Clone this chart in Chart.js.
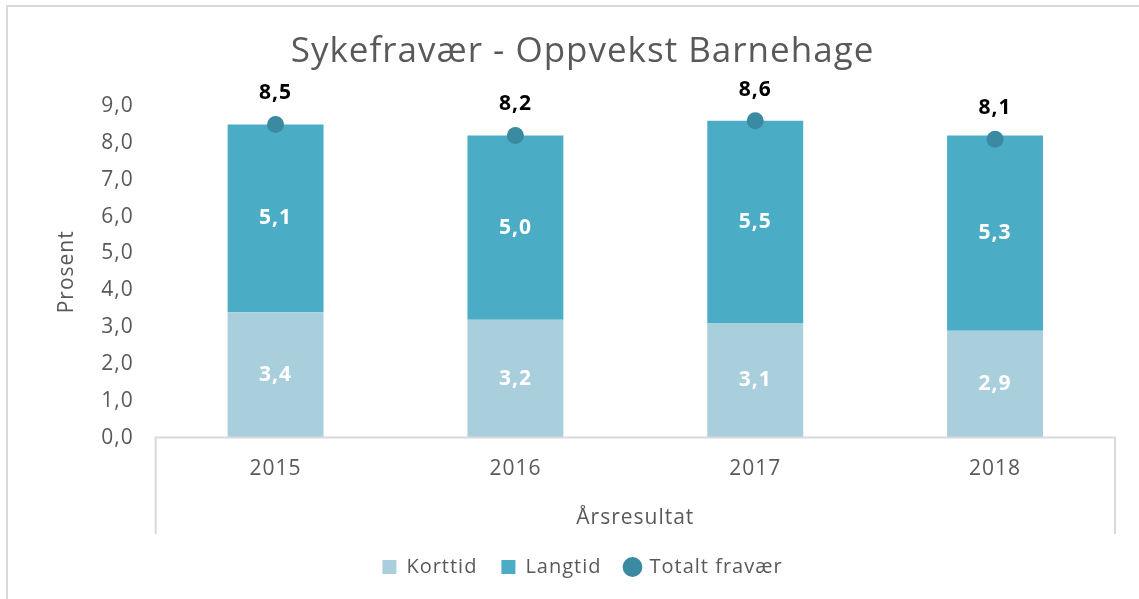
<!DOCTYPE html>
<html>
<head>
<meta charset="utf-8">
<script src="https://cdn.jsdelivr.net/npm/chart.js@4.4.1/dist/chart.umd.min.js"></script>
<style>
    html, body { margin: 0; padding: 0; background: #fff; }
    #frame {
        position: absolute; left: 6px; top: 5px; width: 1133px; height: 594px;
        border-left: 2px solid #d9d9d9; border-top: 2px solid #d9d9d9;
    }
    #wrap { position: absolute; left: 0; top: 0; width: 1139px; height: 599px; }
</style>
</head>
<body>
<div id="frame"></div>
<div id="wrap"><canvas id="chart"></canvas></div>
<script>
// Data
const years = ["2015", "2016", "2017", "2018"];
const korttid = [3.4, 3.2, 3.1, 2.9];
const langtid = [5.1, 5.0, 5.5, 5.3];
const totalt = [8.5, 8.2, 8.6, 8.1];

const fontFamily = "'Open Sans', 'Liberation Sans', sans-serif";
const grey = "#595959";

// Format number with decimal comma
const fmt = (v) => v.toFixed(1).replace(".", ",");

// The original text is a bit wide, so add some letter spacing
const spacing = {
    id: "spacing",
    beforeLayout(chart) { chart.ctx.letterSpacing = "1px"; },
    beforeDraw(chart) { chart.ctx.letterSpacing = "1px"; },
};

// Value labels on bars and above the dots
const valueLabels = {
    id: "valueLabels",
    afterDatasetsDraw(chart) {
        const ctx = chart.ctx;
        ctx.save();
        ctx.textAlign = "center";
        ctx.textBaseline = "middle";
        ctx.font = "bold 21px " + fontFamily;
        chart.data.datasets.forEach((ds, i) => {
            const meta = chart.getDatasetMeta(i);
            meta.data.forEach((el, j) => {
                const v = ds.data[j];
                if (ds.type === "line") {
                    ctx.fillStyle = "#000";
                    ctx.fillText(fmt(v), el.x, el.y - 31);
                } else {
                    ctx.fillStyle = "#fff";
                    ctx.fillText(fmt(v), el.x, (el.y + el.base) / 2);
                }
            });
        });
        ctx.restore();
    },
};

// Excel style category axis box: axis line plus end lines
const categoryBox = {
    id: "categoryBox",
    afterDraw(chart) {
        const x = chart.scales.x;
        const ctx = chart.ctx;
        ctx.save();
        ctx.strokeStyle = "#d9d9d9";
        ctx.lineWidth = 2;
        ctx.beginPath();
        ctx.moveTo(x.left, x.bottom + 1);
        ctx.lineTo(x.left, x.top);
        ctx.lineTo(x.right, x.top);
        ctx.lineTo(x.right, x.bottom + 1);
        ctx.stroke();
        ctx.restore();
    },
};

new Chart(document.getElementById("chart"), {
    data: {
        labels: years,
        datasets: [
            {
                type: "bar",
                label: "Korttid",
                data: korttid,
                backgroundColor: "#a9cedc",
                stack: "bars",
                order: 1,
                pointStyle: "rect",
            },
            {
                type: "bar",
                label: "Langtid",
                data: langtid,
                backgroundColor: "#4bacc6",
                stack: "bars",
                order: 1,
                pointStyle: "rect",
            },
            {
                type: "line",
                label: "Totalt fravær",
                data: totalt,
                showLine: false,
                pointRadius: 8.5,
                pointHoverRadius: 8.5,
                pointBackgroundColor: "#3a8aa1",
                pointBorderWidth: 0,
                backgroundColor: "#3a8aa1",
                borderColor: "#3a8aa1",
                stack: "total",
                order: 0,
                pointStyle: "circle",
            },
        ],
    },
    options: {
        responsive: true,
        maintainAspectRatio: false,
        animation: false,
        datasets: { bar: { categoryPercentage: 1, barPercentage: 0.4 } },
        layout: { padding: { left: 50, right: 24, top: 10, bottom: 12 } },
        plugins: {
            title: {
                display: true,
                text: "Sykefravær - Oppvekst Barnehage",
                color: grey,
                font: { family: fontFamily, size: 35, weight: "normal" },
                padding: { top: 21, bottom: 33 },
            },
            legend: {
                position: "bottom",
                labels: {
                    usePointStyle: true,
                    boxWidth: 14,
                    boxHeight: 14,
                    padding: 24,
                    color: grey,
                    font: { family: fontFamily, size: 20 },
                    sort: (a, b) => a.datasetIndex - b.datasetIndex,
                },
            },
            tooltip: { enabled: false },
        },
        scales: {
            x: {
                stacked: true,
                offset: true,
                grid: { display: false, drawTicks: false },
                border: { display: false },
                ticks: {
                    color: grey,
                    font: { family: fontFamily, size: 21 },
                    padding: 19,
                },
                title: {
                    display: true,
                    text: "Årsresultat",
                    color: grey,
                    font: { family: fontFamily, size: 21 },
                    padding: { top: 5, bottom: 2 },
                },
            },
            y: {
                stacked: true,
                min: 0,
                max: 9,
                grid: { display: false, drawTicks: false },
                border: { display: false },
                ticks: {
                    stepSize: 1,
                    color: grey,
                    font: { family: fontFamily, size: 21 },
                    padding: 22,
                    callback: (v) => fmt(v),
                },
                title: {
                    display: true,
                    text: "Prosent",
                    color: grey,
                    font: { family: fontFamily, size: 21 },
                    padding: { top: 4, bottom: 0 },
                },
            },
        },
    },
    plugins: [spacing, valueLabels, categoryBox],
});
</script>
</body>
</html>
